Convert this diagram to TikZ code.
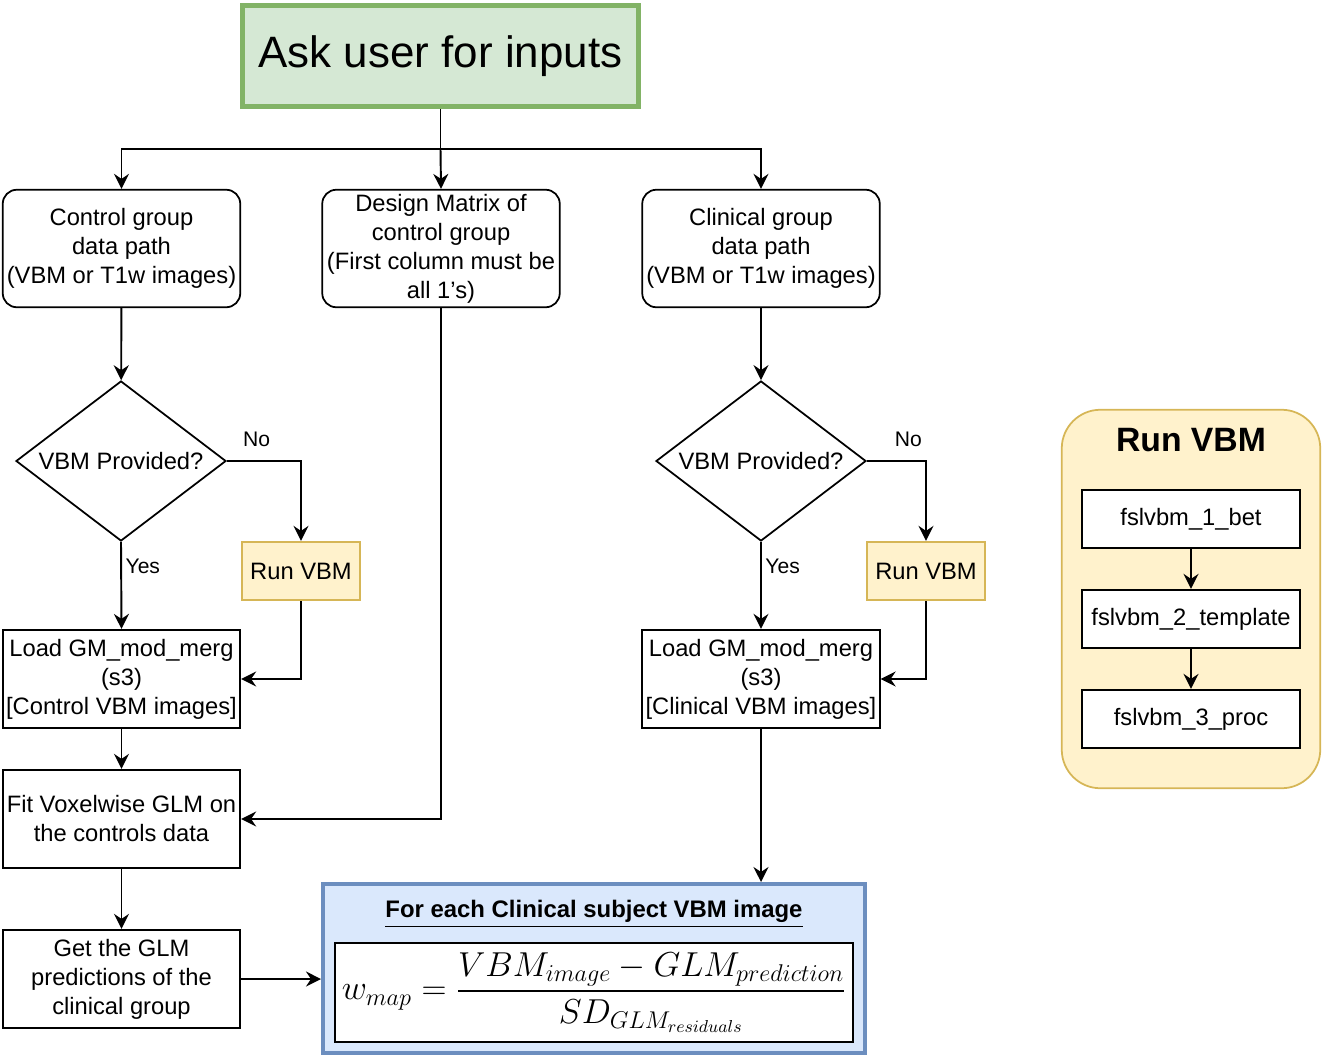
\RequirePackage{fix-cm}
\documentclass[tikz,border=0pt]{standalone}
\usepackage{amsmath}
\usepackage{fontspec}
\setmainfont{Liberation Sans}
\usetikzlibrary{arrows.meta,positioning,shapes.geometric}
\definecolor{askfill}{HTML}{D5E8D4}
\definecolor{askline}{HTML}{82B366}
\definecolor{vbmfill}{HTML}{FFF2CC}
\definecolor{vbmline}{HTML}{D6B656}
\definecolor{eqfill}{HTML}{DAE8FC}
\definecolor{eqline}{HTML}{6C8EBF}

\begin{document}
\begin{tikzpicture}[
  font=\fontsize{13.5}{16.5}\selectfont,
  inbox/.style={draw,line width=1pt,rounded corners=8pt,align=center,
    minimum width=4.75cm,minimum height=2.35cm,inner sep=1pt},
  stepbox/.style={draw,line width=1pt,align=center,
    minimum width=4.75cm,minimum height=1.97cm,inner sep=1pt},
  decide/.style={draw,line width=1pt,diamond,aspect=1.31,
    minimum width=4.2cm,minimum height=3.2cm,inner sep=0pt},
  vbmbox/.style={draw=vbmline,fill=vbmfill,line width=1pt,
    minimum width=2.37cm,minimum height=1.17cm},
  subbox/.style={draw,fill=white,line width=1pt,
    minimum width=4.37cm,minimum height=1.17cm},
  flow/.style={-{Stealth[length=3mm,width=3mm,inset=1mm]},line width=1.1pt},
  lbl/.style={font=\fontsize{12}{14}\selectfont,inner sep=2pt}]
\useasboundingbox (0,0) rectangle (26.44,-21.24);
% inputs
\node[draw=askline,fill=askfill,line width=2.8pt,minimum width=7.92cm,minimum height=2.02cm,
  font=\fontsize{25}{30}\selectfont] (ask) at (8.81,-1.12) {Ask user for inputs};
\node[inbox] (ctrl) at (2.43,-4.97) {Control group\\data path\\(VBM or T1w images)};
\node[inbox] (design) at (8.82,-4.97) {Design Matrix of\\control group\\(First column must be\\all 1's)};
\node[inbox] (clin) at (15.22,-4.97) {Clinical group\\data path\\(VBM or T1w images)};
% control branch
\node[decide] (dctrl) at (2.42,-9.22) {VBM Provided?};
\node[vbmbox] (runctrl) at (6.02,-11.42) {Run VBM};
\node[stepbox] (loadctrl) at (2.43,-13.58) {Load GM\_mod\_merg\\(s3)\\{}[Control VBM images]};
\node[stepbox] (fit) at (2.43,-16.38) {Fit Voxelwise GLM on\\the controls data};
\node[stepbox] (glm) at (2.43,-19.58) {Get the GLM\\predictions of the\\clinical group};
% clinical branch
\node[decide] (dclin) at (15.22,-9.22) {VBM Provided?};
\node[vbmbox] (runclin) at (18.52,-11.42) {Run VBM};
\node[stepbox] (loadclin) at (15.22,-13.58) {Load GM\_mod\_merg\\(s3)\\{}[Clinical VBM images]};
% w-map
\node[draw=eqline,fill=eqfill,line width=2.3pt,minimum width=10.84cm,minimum height=3.38cm] (eqpanel) at (11.88,-19.37) {};
\node[font=\bfseries\fontsize{13.6}{16}\selectfont] (eqhead) at (11.88,-18.28) {\underline{For each Clinical subject VBM image}};
\node[draw,fill=white,line width=1.2pt,minimum width=10.36cm,minimum height=1.98cm,
  font=\fontsize{19.7}{23}\selectfont] (eq) at (11.88,-19.85)
  {$\displaystyle w_{map}=\frac{VBM_{image}-GLM_{prediction}}{SD_{GLM_{residuals}}}$};
% run vbm panel
\node[draw=vbmline,fill=vbmfill,line width=1pt,rounded corners=22pt,
  minimum width=5.17cm,minimum height=7.57cm] (panel) at (23.82,-11.98) {};
\node[font=\bfseries\fontsize{19.2}{23}\selectfont] (paneltitle) at (23.82,-8.8) {Run VBM};
\node[subbox] (bet) at (23.82,-10.38) {fslvbm\_1\_bet};
\node[subbox] (tmpl) at (23.82,-12.38) {fslvbm\_2\_template};
\node[subbox] (proc) at (23.82,-14.38) {fslvbm\_3\_proc};

\coordinate (split) at (8.81,-2.98);
\draw[line width=1.1pt] (ask.south) -- (split);
\draw[flow] (split) -- (design.north);
\draw[flow] (split) -| (ctrl.north);
\draw[flow] (split) -| (clin.north);
\draw[flow] (ctrl) -- (dctrl);
\draw[flow] (dctrl.east) -| node[lbl,pos=0.2,above=5.5pt] {No} (runctrl.north);
\draw[flow] (dctrl.south) -- node[lbl,pos=0.28,right] {Yes} (loadctrl.north);
\draw[flow] (runctrl.south) |- (loadctrl.east);
\draw[flow] (loadctrl) -- (fit);
\draw[flow] (design.south) |- (fit.east);
\draw[flow] (fit) -- (glm);
\draw[flow] (glm.east) -- (glm.east -| eqpanel.west);
\draw[flow] (clin) -- (dclin);
\draw[flow] (dclin.east) -| node[lbl,pos=0.35,above=5.5pt] {No} (runclin.north);
\draw[flow] (dclin.south) -- node[lbl,pos=0.28,right] {Yes} (loadclin.north);
\draw[flow] (runclin.south) |- (loadclin.east);
\draw[flow] (loadclin.south) -- (loadclin.south |- eqpanel.north);
\draw[flow] (bet) -- (tmpl);
\draw[flow] (tmpl) -- (proc);
\end{tikzpicture}
\end{document}
